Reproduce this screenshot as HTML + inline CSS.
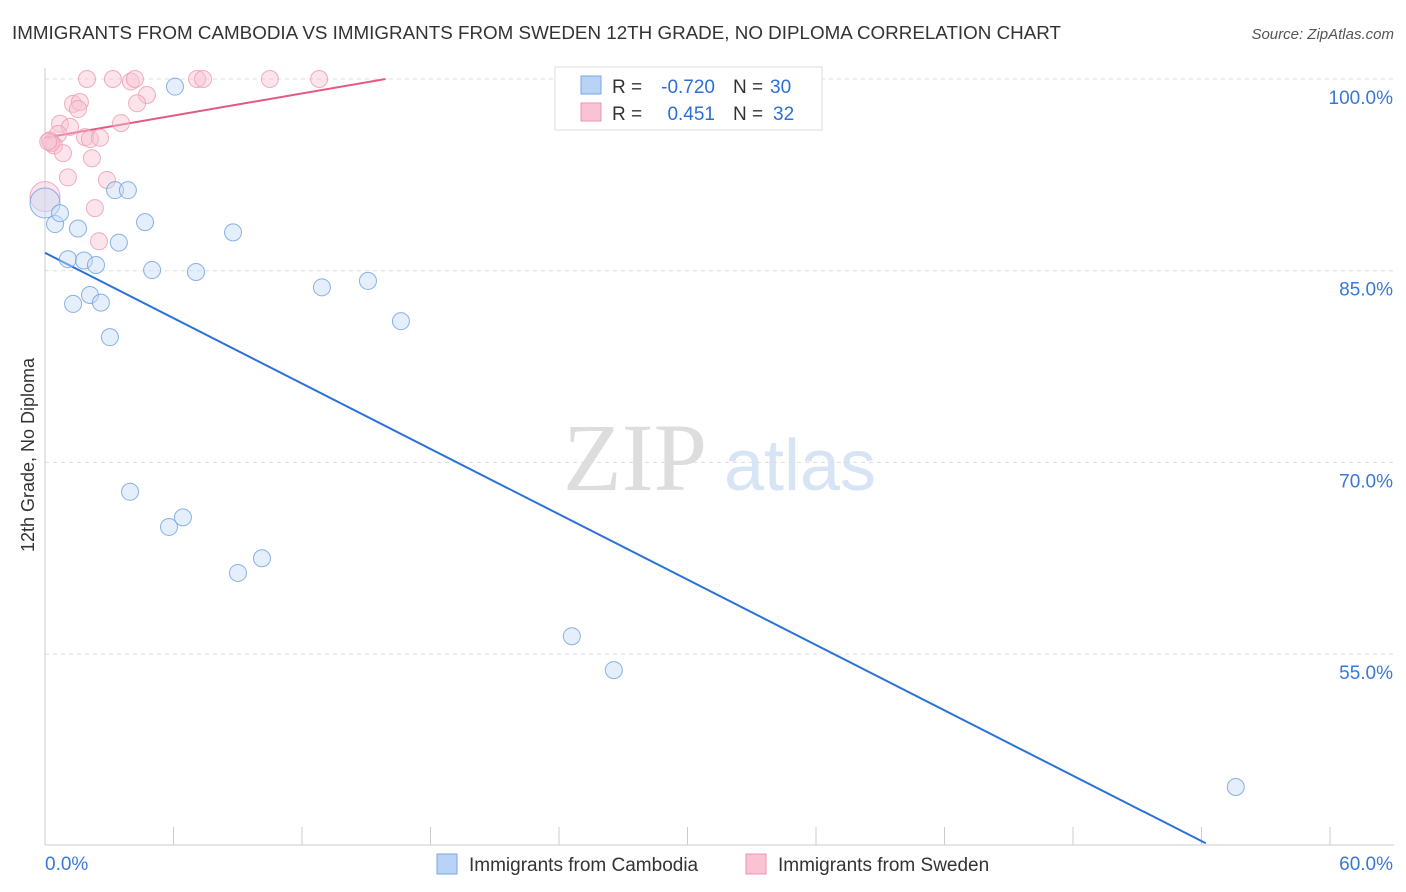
<!DOCTYPE html>
<html><head><meta charset="utf-8">
<style>
body{margin:0;background:#fff;font-family:"Liberation Sans",sans-serif;}
#wrap{position:relative;width:1406px;height:892px;overflow:hidden;}
</style></head>
<body>
<div id="wrap">
<svg id="svg" width="1406" height="892" xmlns="http://www.w3.org/2000/svg">
<text x="12" y="39" font-size="18" fill="#333" textLength="1049" lengthAdjust="spacingAndGlyphs">IMMIGRANTS FROM CAMBODIA VS IMMIGRANTS FROM SWEDEN 12TH GRADE, NO DIPLOMA CORRELATION CHART</text>
<text x="1394" y="39" font-size="15" fill="#555" font-style="italic" text-anchor="end">Source: ZipAtlas.com</text>
<text transform="translate(34,455) rotate(-90)" font-size="18" fill="#333" text-anchor="middle">12th Grade, No Diploma</text>
<g>
<text x="635" y="490" font-size="96" fill="#ddd" font-family="Liberation Serif,serif" text-anchor="middle">ZIP</text>
<text x="800" y="490" font-size="72" fill="#d6e4f5" text-anchor="middle">atlas</text>
</g>
<g id="grid"></g><g id="ticks"></g><g id="lines"></g><g id="pts"></g>
<g>
<rect x="555" y="67" width="267" height="63" fill="#fff" stroke="#ddd"/>
<rect x="581" y="76" width="20" height="18" fill="#b8d3f5" stroke="#7aa8e8"/>
<rect x="581" y="103" width="20" height="18" fill="#f9c3d3" stroke="#ef95b0"/>
<text x="612" y="93" font-size="19" fill="#333">R =</text>
<text x="715" y="93" font-size="19" fill="#2b6fd6" text-anchor="end">-0.720</text>
<text x="733" y="93" font-size="19" fill="#333">N =</text>
<text x="770" y="93" font-size="19" fill="#2b6fd6">30</text>
<text x="612" y="120" font-size="19" fill="#333">R =</text>
<text x="715" y="120" font-size="19" fill="#2b6fd6" text-anchor="end">0.451</text>
<text x="733" y="120" font-size="19" fill="#333">N =</text>
<text x="773" y="120" font-size="19" fill="#2b6fd6">32</text>
</g>
<g>
<rect x="437" y="854" width="20" height="20" fill="#b8d3f5" stroke="#7aa8e8"/>
<text x="469" y="871" font-size="19" fill="#333">Immigrants from Cambodia</text>
<rect x="746" y="854" width="20" height="20" fill="#f9c3d3" stroke="#ef95b0"/>
<text x="778" y="871" font-size="19" fill="#333">Immigrants from Sweden</text>
</g>
</svg>
</div>
<script>
const yTicks=[100,85,70,55];
const yTickLabels=["100.0%","85.0%","70.0%","55.0%"];
const xTicks=[0,6,12,18,24,30,36,42,48,54,60];
const cambX=[0,0.47,0.7,1.54,1.07,1.82,2.38,1.31,2.1,2.61,3.03,3.27,3.87,3.45,4.67,5.0,7.05,8.78,6.07,12.93,15.08,16.62,3.97,5.79,6.44,9.01,10.13,24.6,26.56,55.6];
const cambY=[90.3,88.65,89.5,88.3,85.9,85.8,85.45,82.4,83.1,82.5,79.8,91.3,91.3,87.2,88.8,85.05,84.9,88.0,99.4,83.7,84.2,81.05,67.7,64.95,65.7,61.35,62.5,56.4,53.75,44.6];
const swedX=[1.96,3.17,4.01,4.2,7.1,7.38,10.5,12.8,1.31,1.63,1.54,4.76,4.3,3.55,0.7,1.17,0.61,0.23,0.42,0.84,1.87,2.1,2.57,2.19,1.07,2.89,2.33,2.52,0,0.3,0.15,25.9];
const swedY=[100,100,99.8,100,100,100,100,100,98.05,98.2,97.65,98.75,98.1,96.55,96.5,96.25,95.7,95.2,94.8,94.2,95.45,95.3,95.4,93.8,92.3,92.1,89.9,87.3,90.8,95.0,95.1,100];
const cambLine=[[0,86.4],[54.2,40.2]];
const swedLine=[[0,95.4],[15.9,100]];
const X=v=>45+v*(1330-45)/60;
const Y=v=>79+(100-v)*(191.7/15);
const NS="http://www.w3.org/2000/svg";
function mk(t,a,p){const e=document.createElementNS(NS,t);for(const k in a)e.setAttribute(k,a[k]);p.appendChild(e);return e;}
const grid=document.getElementById('grid'),ticks=document.getElementById('ticks'),lines=document.getElementById('lines'),pts=document.getElementById('pts');
yTicks.forEach((t,i)=>{
 const l=mk('line',{x1:45,x2:1394,y1:Y(t),y2:Y(t),stroke:'#ddd','stroke-dasharray':'4,4'},grid);
 
 
 const tx=mk('text',{x:1393,y:Y(t)+25,'font-size':19,fill:'#3a78d6','text-anchor':'end'},ticks);
 tx.textContent=yTickLabels[i];
 
 
});
const ax=mk('line',{x1:45,x2:45,y1:68,y2:845,stroke:'#ccc'},ticks);


const bx=mk('line',{x1:45,x2:1394,y1:845,y2:845,stroke:'#ccc'},ticks);


xTicks.forEach(t=>{
 const l=mk('line',{x1:X(t),x2:X(t),y1:827,y2:845,stroke:'#ccc'},ticks);
 
 
});
const xl0=mk('text',{x:45,y:870,'font-size':19,fill:'#3a78d6'},ticks);xl0.textContent='0.0%';


const xl1=mk('text',{x:1393,y:870,'font-size':19,fill:'#3a78d6','text-anchor':'end'},ticks);xl1.textContent='60.0%';


function dots(xs,ys,fill,stroke,op,name){xs.forEach((x,i)=>{
 const r=(x===0)?15:8.5;
 const c=mk('circle',{cx:X(x),cy:Y(ys[i]),r:r,fill:fill,'fill-opacity':op,stroke:stroke,'stroke-opacity':0.8,'stroke-width':1},pts);
 
 
});}
dots(swedX,swedY,'#f9c3d3','#ec9ab3',0.45,'point-sweden');
dots(cambX,cambY,'#c5dbf6','#6d9fe0',0.45,'point-cambodia');
const bl=mk('line',{x1:X(cambLine[0][0]),y1:Y(cambLine[0][1]),x2:X(cambLine[1][0]),y2:Y(cambLine[1][1]),stroke:'#2b72d8','stroke-width':2},lines);


const pl=mk('line',{x1:X(swedLine[0][0]),y1:Y(swedLine[0][1]),x2:X(swedLine[1][0]),y2:Y(swedLine[1][1]),stroke:'#e6577f','stroke-width':2},lines);


</script>
</body></html>
